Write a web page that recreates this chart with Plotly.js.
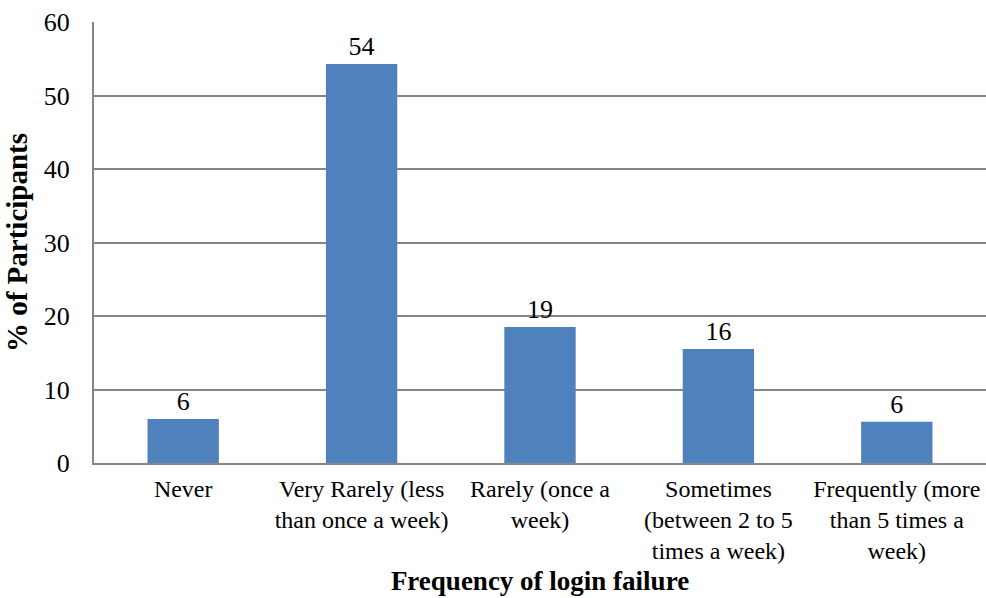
<!DOCTYPE html>
<html><head><meta charset="utf-8">
<script src="https://cdn.plot.ly/plotly-3.0.1.min.js"></script>
<style>html,body{margin:0;padding:0;background:#fff;}#chart{width:986px;height:598px;}</style>
</head><body><div id="chart"></div>
<script>
const categories = ["Never", "Very Rarely (less<br>than once a week)", "Rarely (once a<br>week)", "Sometimes<br>(between 2 to 5<br>times a week)", "Frequently (more<br>than 5 times a<br>week)"];
const values = [6.0, 54.3, 18.5, 15.5, 5.6];
const labels = ["6", "54", "19", "16", "6"];
const yTicks = [0, 10, 20, 30, 40, 50, 60];

const font = "Liberation Serif";
Plotly.newPlot("chart", [{
  type: "bar", x: categories, y: values, text: labels,
  textposition: "outside", cliponaxis: false,
  textfont: {family: font, size: 26, color: "#000"},
  marker: {color: "#4F81BD"}, width: 0.4, hoverinfo: "none"
}], {
  width: 986, height: 598,
  margin: {l: 94, r: 0, t: 22, b: 135},
  paper_bgcolor: "#fff", plot_bgcolor: "#fff",
  showlegend: false,
  font: {family: font, color: "#000"},
  xaxis: {
    showline: true, linecolor: "#868686", linewidth: 2, ticks: "",
    tickfont: {family: font, size: 24, color: "#000"},
    ticklabelstandoff: 3,
    title: {text: "<b>Frequency of login failure</b>", font: {family: font, size: 27, color: "#000"}, standoff: 8}
  },
  yaxis: {
    range: [0, 60], tickvals: yTicks, ticktext: yTicks.map(String),
    showline: true, linecolor: "#868686", linewidth: 2,
    showgrid: true, gridcolor: "#868686", gridwidth: 2, zeroline: false,
    ticks: "", ticklen: 0, ticklabelstandoff: 17,
    tickfont: {family: font, size: 26, color: "#000"},
    title: {text: "<b>% of Participants</b>", font: {family: font, size: 29, color: "#000"}, standoff: 8}
  }
}, {staticPlot: true});
</script></body></html>
